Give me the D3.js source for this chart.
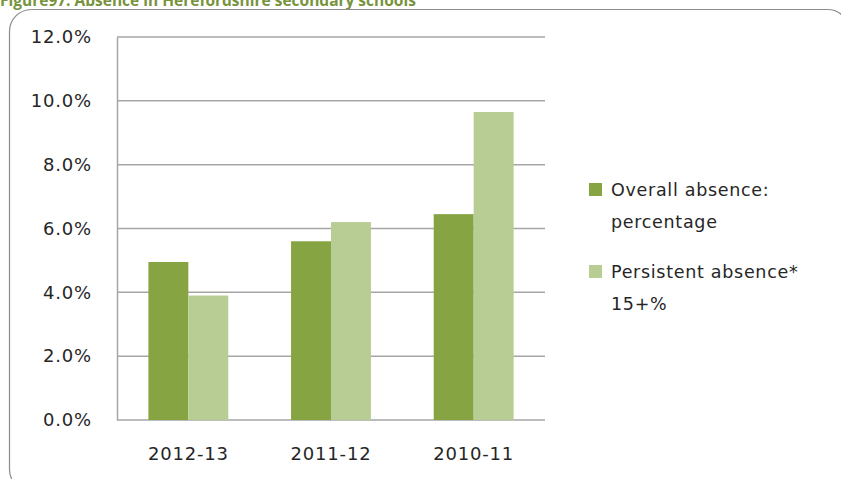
<!DOCTYPE html>
<html>
<head>
<meta charset="utf-8">
<script src="https://cdn.jsdelivr.net/npm/d3@7"></script>
<style>
  body { margin: 0; background: #fff; }
  svg { display: block; font-family: "DejaVu Sans", sans-serif; }
</style>
</head>
<body>
<svg id="chart" width="841" height="479"></svg>
<script>
// data
var years = ["2012-13", "2011-12", "2010-11"];
var overall = [4.95, 5.6, 6.45];
var persistent = [3.9, 6.2, 9.65];
var seriesNames = ["Overall absence:|percentage", "Persistent absence*|15+%"];
var seriesColors = ["#87a442", "#b8cd93"];
var yTicks = [0, 2, 4, 6, 8, 10, 12];

var svg = d3.select("#chart");

// title, clipped at top like in the original
svg.append("text")
  .attr("x", 0).attr("y", 6)
  .attr("fill", "#77933c")
  .attr("font-weight", "bold")
  .attr("font-size", 15.5)
  .attr("font-family", "'Open Sans', sans-serif")
  .text("Figure97: Absence in Herefordshire secondary schools");

// chart frame (runs off the right and bottom edge)
svg.append("rect")
  .attr("x", 9.5).attr("y", 9.5)
  .attr("width", 840).attr("height", 482)
  .attr("rx", 22).attr("ry", 22)
  .attr("fill", "none").attr("stroke", "#8c8c8c").attr("stroke-width", 1.2);

var pLeft = 117, pRight = 545, pTop = 37, pBottom = 420;

var x = d3.scaleBand().domain(years).range([pLeft, pRight]).paddingInner(0.44).paddingOuter(0.22);
var x1 = d3.scaleBand().domain([0, 1]).range([0, x.bandwidth()]);
var y = d3.scaleLinear().domain([0, 12]).range([pBottom, pTop]);

// gridlines
svg.append("g").selectAll("line").data(yTicks).join("line")
  .attr("x1", pLeft).attr("x2", pRight)
  .attr("y1", function(d){ return y(d); }).attr("y2", function(d){ return y(d); })
  .attr("stroke", "#a6a6a6").attr("stroke-width", 1.5);

// y axis
var yAxis = d3.axisLeft(y).tickValues(yTicks).tickSize(0).tickPadding(25)
  .tickFormat(function(d){ return d.toFixed(1) + "%"; });
var gy = svg.append("g").attr("transform", "translate(" + pLeft + ",0)").call(yAxis);
gy.select(".domain").attr("stroke", "#a6a6a6").attr("stroke-width", 1.5);
gy.selectAll("text").attr("font-size", 18).attr("fill", "#262626")
  .attr("letter-spacing", 0.8)
  .attr("font-family", "'DejaVu Sans', sans-serif");

// x axis labels
var xAxis = d3.axisBottom(x).tickSize(0).tickPadding(27);
var gx = svg.append("g").attr("transform", "translate(0," + pBottom + ")").call(xAxis);
gx.select(".domain").remove();
gx.selectAll("text").attr("font-size", 18).attr("fill", "#262626")
  .attr("letter-spacing", 0.8)
  .attr("font-family", "'DejaVu Sans', sans-serif");

// bars
var series = [overall, persistent];
series.forEach(function(vals, si){
  svg.append("g").selectAll("rect").data(vals).join("rect")
    .attr("x", function(d, i){ return x(years[i]) + x1(si); })
    .attr("y", function(d){ return y(d); })
    .attr("width", x1.bandwidth())
    .attr("height", function(d){ return pBottom - y(d); })
    .attr("fill", seriesColors[si]);
});

// legend
var legend = svg.append("g").attr("transform", "translate(589,0)");
var legY = [190, 272];
seriesNames.forEach(function(name, i){
  var g = legend.append("g").attr("transform", "translate(0," + legY[i] + ")");
  g.append("rect").attr("x", 0).attr("y", -7).attr("width", 13).attr("height", 13)
    .attr("fill", seriesColors[i]);
  var lines = name.split("|");
  lines.forEach(function(l, j){
    g.append("text").attr("x", 22).attr("y", j * 32)
      .attr("dy", "0.35em")
      .attr("font-size", 17.5).attr("fill", "#262626")
      .attr("letter-spacing", 0.7)
      .text(l);
  });
});
</script>
</body>
</html>
